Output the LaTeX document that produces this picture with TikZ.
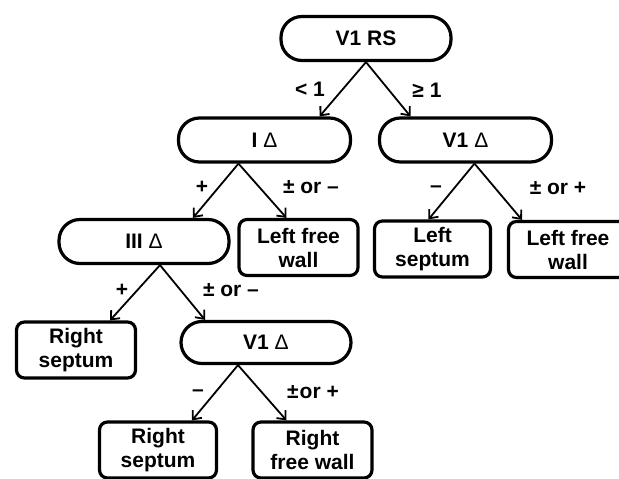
\documentclass[tikz,border=0pt]{standalone}
\usepackage{fontspec}
\setmainfont{Liberation Sans}
\usetikzlibrary{arrows.meta}

\newlength{\du}
\setlength{\du}{1pt}
\definecolor{dialinecolor}{rgb}{0.000000, 0.000000, 0.000000}
\definecolor{diafillcolor}{rgb}{1.000000, 1.000000, 1.000000}
\newcommand{\dlt}{{\mdseries Δ}}

\tikzset{
  decision/.style={draw=dialinecolor, fill=diafillcolor, line width=3.2\du,
    rounded corners=21\du, minimum width=170\du, minimum height=44\du,
    inner sep=0pt, font=\fontsize{21}{24}\selectfont\bfseries},
  outcome/.style={draw=dialinecolor, fill=diafillcolor, line width=3.2\du,
    rounded corners=8\du, minimum width=119\du, minimum height=56\du,
    inner sep=0pt, align=center, font=\fontsize{21}{24}\selectfont\bfseries},
  branch/.style={draw=dialinecolor, line width=1.8\du,
    -{Straight Barb[length=7pt,width=12pt]}},
  cond/.style={inner sep=0pt, font=\fontsize{21}{24}\selectfont\bfseries}
}

\begin{document}
\begin{tikzpicture}
\pgftransformxscale{1.000000}
\pgftransformyscale{-1.000000}
\useasboundingbox (0\du,0\du) rectangle (619\du,479\du);

% decision nodes
\node[decision] (rs) at (366\du,38.5\du) {V1 RS};
\node[decision, minimum width=172\du] (ia) at (264.5\du,140\du) {I \dlt};
\node[decision, minimum width=172\du] (va) at (465.5\du,140\du) {V1 \dlt};
\node[decision] (iiia) at (144\du,241.5\du) {III \dlt};
\node[decision, minimum height=42\du] (vb) at (266\du,342.5\du) {V1 \dlt};

% outcome boxes
\node[outcome] (lfwa) at (298.5\du,247.5\du) {Left free\\wall};
\node[outcome, minimum width=116\du] (lsep) at (432.5\du,249\du) {Left\\septum};
\node[outcome] (lfwb) at (568\du,249.5\du) {Left free\\wall};
\node[outcome] (rsepa) at (76\du,350\du) {Right\\septum};
\node[outcome, minimum width=117\du] (rsepb) at (158\du,450\du) {Right\\septum};
\node[outcome] (rfw) at (312.5\du,450\du) {Right\\free wall};

% branches
\draw[branch] (rs.south) -- ([xshift=55\du]ia.north);
\draw[branch] (rs.south) -- ([xshift=-55\du]va.north);
\draw[branch] ([xshift=-26\du]ia.south) -- ([xshift=49\du]iiia.north);
\draw[branch] ([xshift=-26\du]ia.south) -- ([xshift=-12\du]lfwa.north);
\draw[branch] ([xshift=9\du]va.south) -- ([xshift=-4\du]lsep.north);
\draw[branch] ([xshift=9\du]va.south) -- ([xshift=-46\du]lfwb.north);
\draw[branch] ([xshift=16\du]iiia.south) -- ([xshift=34\du]rsepa.north);
\draw[branch] ([xshift=16\du]iiia.south) -- ([xshift=-61\du]vb.north);
\draw[branch] ([xshift=-28\du]vb.south) -- ([xshift=34\du]rsepb.north);
\draw[branch] ([xshift=-28\du]vb.south) -- ([xshift=-26\du]rfw.north);

% branch conditions
\node[cond] (lt) at (310\du,89\du) {< 1};
\node[cond] (ge) at (427\du,90\du) {≥ 1};
\node[cond] (ipos) at (202\du,187\du) {+};
\node[cond] (ineg) at (311\du,187\du) {± or –};
\node[cond] (vneg) at (436\du,189\du) {–};
\node[cond] (vpos) at (558\du,188\du) {± or +};
\node[cond] (iiipos) at (122\du,290\du) {+};
\node[cond] (iiineg) at (231\du,290\du) {± or –};
\node[cond] (vbneg) at (198\du,393\du) {–};
\node[cond] (vbpos) at (313\du,392\du) {±\kern1pt or +};
\end{tikzpicture}
\end{document}
